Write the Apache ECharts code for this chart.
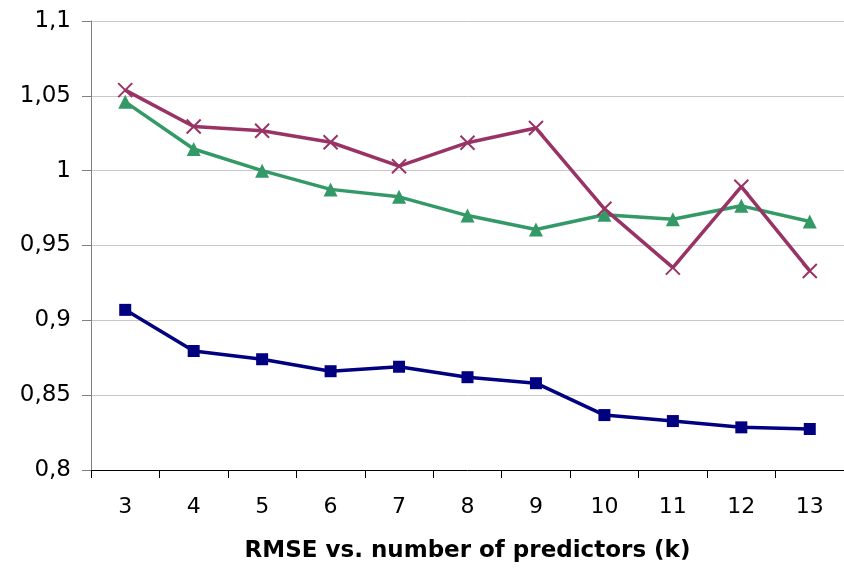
<!DOCTYPE html>
<html>
<head>
<meta charset="utf-8">
<script src="https://cdn.jsdelivr.net/npm/echarts@6/dist/echarts.min.js"></script>
<style>
  html, body { margin: 0; padding: 0; background: #fff; }
  #chart { width: 844px; height: 570px; }
</style>
</head>
<body>
<div id="chart"></div>
<script>
// Number of predictors k
const categories = ['3', '4', '5', '6', '7', '8', '9', '10', '11', '12', '13'];

// RMSE per model
const seriesNavy   = [0.907, 0.8795, 0.874, 0.866, 0.869, 0.862, 0.858, 0.8367, 0.8327, 0.8285, 0.8274];
const seriesGreen  = [1.046, 1.0145, 1.000, 0.9875, 0.9825, 0.970, 0.9607, 0.9705, 0.9675, 0.9765, 0.966];
const seriesPurple = [1.0538, 1.0295, 1.0267, 1.019, 1.003, 1.0187, 1.0285, 0.9745, 0.9352, 0.9893, 0.933];

const axisTitle = 'RMSE vs. number of predictors (k)';

const FONT = "'DejaVu Sans', 'Liberation Sans', Arial, sans-serif";
const chart = echarts.init(document.getElementById('chart'), null, { renderer: 'canvas' });

// open "x" marker drawn as two crossing strokes
const crossPath = 'path://M0,0L10,10M10,0L0,10';

chart.setOption({
  animation: false,
  backgroundColor: '#ffffff',
  grid: { left: 91, right: 0, top: 21, bottom: 100, containLabel: false },
  xAxis: {
    type: 'category',
    data: categories,
    boundaryGap: true,
    axisLine: { lineStyle: { color: '#000000', width: 1 } },
    axisTick: { show: true, length: 8, lineStyle: { color: '#000000' } },
    axisLabel: { color: '#000', fontFamily: FONT, fontSize: 22, margin: 26 },
    splitLine: { show: false },
    name: axisTitle,
    nameLocation: 'middle',
    nameGap: 70,
    nameTextStyle: { color: '#000', fontFamily: FONT, fontSize: 23, fontWeight: 'bold' }
  },
  yAxis: {
    type: 'value',
    min: 0.8,
    max: 1.1,
    interval: 0.05,
    axisLine: { show: true, lineStyle: { color: '#808080', width: 1 } },
    axisTick: { show: true, length: 9, lineStyle: { color: '#808080' } },
    axisLabel: {
      color: '#000', fontFamily: FONT, fontSize: 23, margin: 20,
      formatter: v => String(parseFloat(v.toFixed(2))).replace('.', ',')
    },
    splitLine: { show: true, lineStyle: { color: '#c8c8c8', width: 1 } }
  },
  series: [
    {
      name: 'navy', type: 'line', data: seriesNavy,
      symbol: 'rect', symbolSize: 12,
      lineStyle: { color: '#000080', width: 3.5 },
      itemStyle: { color: '#000080' }
    },
    {
      name: 'green', type: 'line', data: seriesGreen,
      symbol: 'triangle', symbolSize: 14,
      lineStyle: { color: '#339966', width: 3.5 },
      itemStyle: { color: '#339966' }
    },
    {
      name: 'purple', type: 'line', data: seriesPurple,
      symbol: crossPath, symbolSize: 14,
      lineStyle: { color: '#993366', width: 3.5 },
      itemStyle: { color: '#993366', borderColor: '#993366', borderWidth: 2 }
    }
  ]
});
</script>
</body>
</html>
